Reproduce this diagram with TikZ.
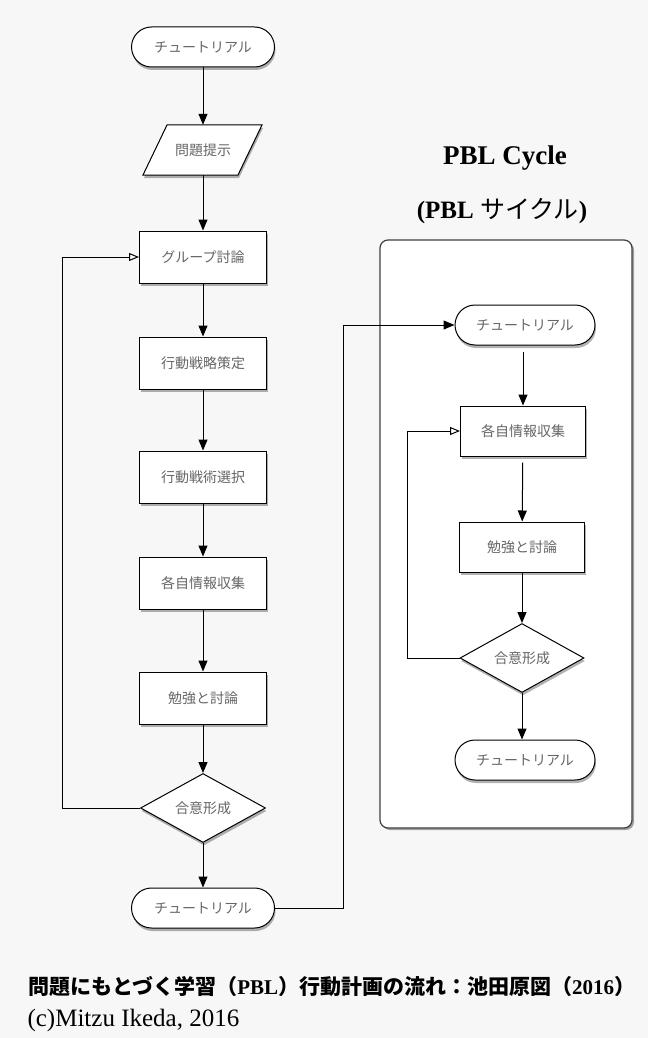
\documentclass[tikz,border=0pt]{standalone}
\usepackage{fontspec}
\setmainfont{Liberation Serif}
\newfontfamily\jpfont{Noto Sans CJK JP}
\usepackage{tikz}
\usetikzlibrary{shapes.geometric,arrows.meta,shadows}
\tikzset{
    flow-text/.style = {inner sep=0pt, text=black!60, font=\jpfont\fontsize{14}{16}\selectfont},
    flow-shadow/.style = {drop shadow={shadow xshift=1pt, shadow yshift=-3pt, opacity=0.3, fill=black}},
    flow-base/.style = {flow-text, flow-shadow, draw=black, line width=1pt, fill=white},
    flow-term/.style = {flow-base, rectangle, rounded corners=20pt, minimum width=143pt, minimum height=40pt},
    flow-io/.style = {flow-text, rectangle, minimum width=95pt, minimum height=50pt},
    flow-io-border/.style = {flow-shadow, draw=black, line width=1pt, fill=white},
    flow-step/.style = {flow-base, rectangle, minimum width=127pt, minimum height=52pt},
    flow-decide/.style = {flow-base, diamond, minimum width=125pt, minimum height=50pt},
    flow-arrow/.style = {draw=black, line width=1pt, -{Triangle[length=11pt,width=9pt]}},
    loop-arrow/.style = {draw=black, line width=1pt, -{Triangle[open,length=10pt,width=8pt]}},
    cycle-box/.style = {draw=black!75, line width=1.2pt, fill=white, rounded corners=8pt,
        drop shadow={shadow xshift=2pt, shadow yshift=-2pt, opacity=0.35, fill=black}},
}

\begin{document}
\begin{tikzpicture}[x=1pt, y=-1pt]
\fill[white!97!black] (0,0) rectangle (648,1038);
\useasboundingbox (0,0) rectangle (648,1038);

% left flow
\node[flow-term] (tut-start) at (203,47) {チュートリアル};
\path[flow-io-border] (167,125) -- (262,125) -- (238,175) -- (143,175) -- cycle;
\node[flow-io] (problem) at (203,150) {問題提示};
\node[flow-step] (group) at (203,257) {グループ討論};
\node[flow-step] (strategy) at (203,363) {行動戦略策定};
\node[flow-step] (tactics) at (203,477) {行動戦術選択};
\node[flow-step] (collect) at (203,583) {各自情報収集};
\node[flow-step] (study) at (203,698) {勉強と討論};
\node[flow-decide] (agree) at (203,808) {合意形成};
\node[flow-term] (tut-end) at (203,908) {チュートリアル};

\draw[flow-arrow] (tut-start) -- (problem);
\draw[flow-arrow] (problem) -- (group);
\draw[flow-arrow] (group) -- (strategy);
\draw[flow-arrow] (strategy) -- (tactics);
\draw[flow-arrow] (tactics) -- (collect);
\draw[flow-arrow] (collect) -- (study);
\draw[flow-arrow] (study) -- (agree);
\draw[flow-arrow] (agree) -- (tut-end);
\draw[loop-arrow] (agree.west) -- ++(-78,0) |- (group.west);

% PBL cycle
\node[font=\fontsize{27}{32}\selectfont\bfseries] (cycle-title) at (505,158) {PBL Cycle};
\node[font=\fontsize{25}{30}\selectfont\bfseries] (cycle-subtitle) at (502,211)
    {(PBL {\jpfont\mdseries サイクル})};
\path[cycle-box] (380,240) rectangle (632,828);

\node[flow-term, minimum width=140pt] (r-tut-start) at (525,325) {チュートリアル};
\node[flow-step, minimum width=125pt, minimum height=50pt] (r-collect) at (523,431) {各自情報収集};
\node[flow-step, minimum width=125pt, minimum height=50pt] (r-study) at (522,547) {勉強と討論};
\node[flow-decide, minimum width=124pt, minimum height=48pt] (r-agree) at (522,658) {合意形成};
\node[flow-term, minimum width=140pt] (r-tut-end) at (525,760) {チュートリアル};

\draw[flow-arrow, shorten <=6pt] (r-tut-start.south -| r-collect) -- (r-collect);
\draw[flow-arrow, shorten <=6pt] (r-collect) -- (r-study);
\draw[flow-arrow] (r-study) -- (r-agree);
\draw[flow-arrow] (r-agree) -- (r-agree |- r-tut-end.north);
\draw[loop-arrow] (r-agree.west) -- ++(-52,0) |- (r-collect.west);

\draw[flow-arrow] (tut-end.east) -- ++(68,0) |- (r-tut-start.west);

% caption
\node[anchor=west, font=\fontsize{21}{25}\selectfont\bfseries] (caption) at (25,987)
    {{\jpfont 問題にもとづく学習（}PBL{\jpfont ）行動計画の流れ：池田原図（}2016{\jpfont ）}};
\node[anchor=west, font=\fontsize{25}{28}\selectfont] (credit) at (24,1020) {(c)Mitzu Ikeda, 2016};
\end{tikzpicture}
\end{document}
